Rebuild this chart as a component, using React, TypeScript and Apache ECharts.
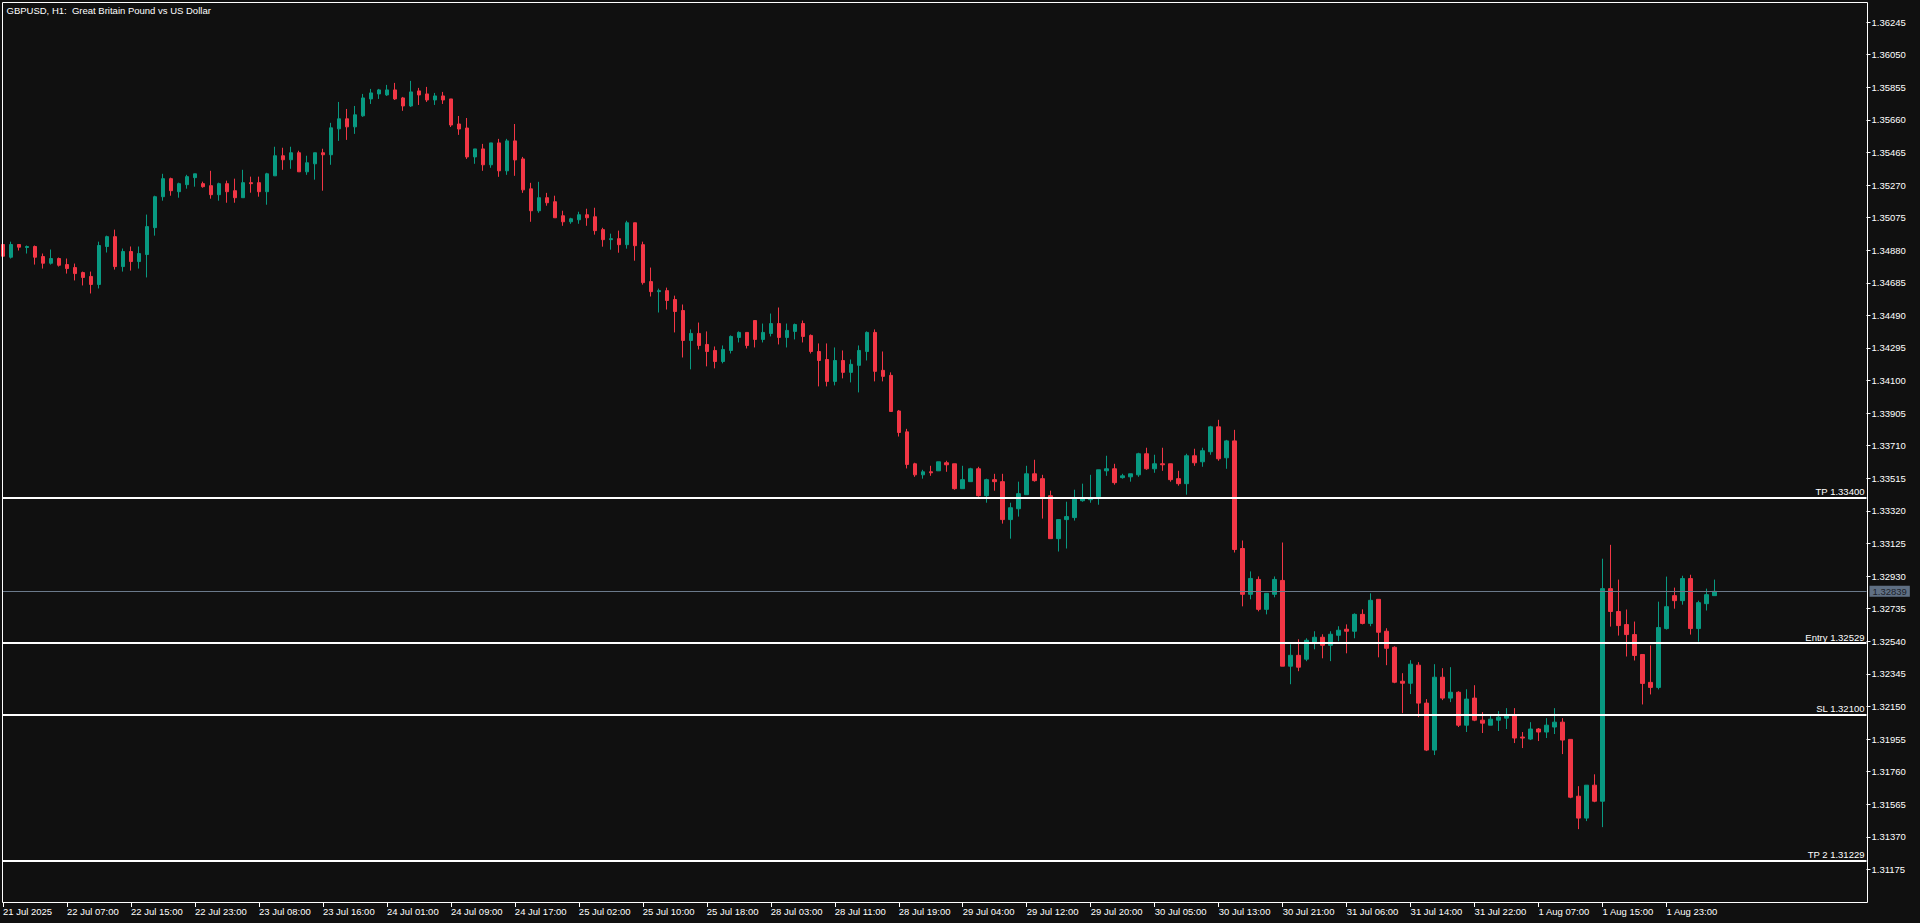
import React, { useEffect, useRef } from 'react';
import * as echarts from 'echarts';

const chartTitle = 'GBPUSD, H1:  Great Britain Pound vs US Dollar';

const opens = [
  1.34914, 1.34838, 1.34914, 1.34896, 1.34902, 1.34842, 1.34802, 1.3483, 1.34794, 1.34776,
  1.34746, 1.34723, 1.34675, 1.34902, 1.34961, 1.34782, 1.34872, 1.34812, 1.34854, 1.35015,
  1.352, 1.35308, 1.3523, 1.35272, 1.35314, 1.35278, 1.35266, 1.35212, 1.35278, 1.35236,
  1.35194, 1.35284, 1.35284, 1.3523, 1.35325, 1.35445, 1.35421, 1.35463, 1.35349, 1.35397,
  1.35463, 1.35451, 1.35606, 1.35666, 1.35618, 1.35684, 1.35785, 1.35815, 1.35809, 1.35839,
  1.35791, 1.35743, 1.35833, 1.35815, 1.35779, 1.35803, 1.35785, 1.35635, 1.35611, 1.35438,
  1.35486, 1.35391, 1.35522, 1.35355, 1.35534, 1.35426, 1.35247, 1.35116, 1.35194, 1.3517,
  1.35086, 1.3505, 1.35062, 1.35092, 1.3508, 1.35003, 1.34943, 1.34949, 1.34913, 1.35044,
  1.34913, 1.34692, 1.34632, 1.34638, 1.34585, 1.34519, 1.3434, 1.34382, 1.34316, 1.3428,
  1.34214, 1.3428, 1.34358, 1.34388, 1.34459, 1.34346, 1.34382, 1.34441, 1.34358, 1.34394,
  1.34441, 1.3437, 1.34274, 1.34226, 1.34095, 1.3422, 1.34149, 1.34191, 1.34274, 1.34388,
  1.34161, 1.34131, 1.33918, 1.33793, 1.33602, 1.33536, 1.33554, 1.3356, 1.33608, 1.33602,
  1.33453, 1.33495, 1.33572, 1.33411, 1.33507, 1.33495, 1.33268, 1.33333, 1.33417, 1.33542,
  1.33513, 1.33411, 1.33154, 1.33268, 1.3328, 1.33381, 1.33387, 1.33405, 1.3356, 1.33572,
  1.33519, 1.33524, 1.33536, 1.33662, 1.33572, 1.33602, 1.33602, 1.33513, 1.33483, 1.3365,
  1.33614, 1.33674, 1.33823, 1.33638, 1.33739, 1.33095, 1.32821, 1.3291, 1.32731, 1.32821,
  1.32904, 1.32391, 1.32456, 1.32433, 1.32534, 1.32564, 1.32516, 1.32576, 1.32612, 1.326,
  1.32701, 1.32647, 1.32791, 1.326, 1.32504, 1.32301, 1.32289, 1.32397, 1.3217, 1.31889,
  1.32325, 1.322, 1.32235, 1.32038, 1.322, 1.32068, 1.32038, 1.32068, 1.3208, 1.32098,
  1.31967, 1.31955, 1.32015, 1.31997, 1.32027, 1.32056, 1.31953, 1.31613, 1.31482, 1.31679,
  1.31583, 1.32855, 1.32718, 1.3264, 1.3258, 1.32461, 1.32294, 1.32264, 1.32616, 1.32813,
  1.32783, 1.32915, 1.32616, 1.32765, 1.32813,
];

const highs = [
  1.34914, 1.34931, 1.34914, 1.34908, 1.34908, 1.3486, 1.34884, 1.34836, 1.3483, 1.348,
  1.34752, 1.34752, 1.34931, 1.34967, 1.35003, 1.3489, 1.34902, 1.34902, 1.35093, 1.35206,
  1.35337, 1.35314, 1.35284, 1.35331, 1.35337, 1.3529, 1.35355, 1.35284, 1.35296, 1.35308,
  1.35361, 1.3532, 1.3532, 1.35343, 1.35499, 1.35493, 1.35499, 1.35475, 1.35445, 1.35463,
  1.35487, 1.35642, 1.35767, 1.35725, 1.35743, 1.35815, 1.35845, 1.35845, 1.35869, 1.35881,
  1.35797, 1.35893, 1.35851, 1.35857, 1.35821, 1.35827, 1.35785, 1.35683, 1.35671, 1.35486,
  1.35516, 1.35522, 1.35546, 1.35546, 1.35635, 1.35438, 1.35283, 1.35289, 1.35223, 1.35206,
  1.35116, 1.35074, 1.3511, 1.35128, 1.35134, 1.35014, 1.34979, 1.34997, 1.35056, 1.35044,
  1.34931, 1.34776, 1.3465, 1.34656, 1.34608, 1.34555, 1.34406, 1.34447, 1.34394, 1.34304,
  1.3431, 1.3437, 1.34394, 1.34388, 1.34459, 1.34441, 1.34501, 1.34537, 1.34441, 1.34441,
  1.34459, 1.34376, 1.34322, 1.34322, 1.34298, 1.3428, 1.34226, 1.3431, 1.34394, 1.34406,
  1.34274, 1.34149, 1.33924, 1.33811, 1.33608, 1.33566, 1.3359, 1.33614, 1.3362, 1.33602,
  1.3359, 1.33578, 1.33584, 1.33513, 1.33542, 1.33542, 1.33369, 1.33495, 1.3359, 1.33626,
  1.33536, 1.33441, 1.33268, 1.33375, 1.33447, 1.33483, 1.33536, 1.33566, 1.3365, 1.33602,
  1.33542, 1.33542, 1.33668, 1.33698, 1.33656, 1.33698, 1.33602, 1.3356, 1.33662, 1.33692,
  1.33698, 1.33829, 1.33865, 1.33745, 1.33805, 1.33143, 1.32958, 1.32928, 1.32827, 1.32928,
  1.33131, 1.32522, 1.32552, 1.32558, 1.326, 1.32582, 1.326, 1.3263, 1.32641, 1.32707,
  1.32731, 1.32827, 1.32791, 1.32618, 1.3251, 1.32349, 1.32427, 1.32415, 1.32194, 1.32403,
  1.32379, 1.32385, 1.32241, 1.32253, 1.32277, 1.32116, 1.32104, 1.32122, 1.3214, 1.3214,
  1.31997, 1.32056, 1.32021, 1.3208, 1.3214, 1.3208, 1.31953, 1.31673, 1.31679, 1.31744,
  1.33034, 1.33117, 1.32909, 1.3273, 1.32658, 1.32461, 1.32515, 1.32777, 1.32927, 1.32861,
  1.32932, 1.32938, 1.32783, 1.32855, 1.32909,
];

const lows = [
  1.34844, 1.3483, 1.34878, 1.3486, 1.34794, 1.3477, 1.34794, 1.34782, 1.3474, 1.34699,
  1.34669, 1.34621, 1.34651, 1.34866, 1.34764, 1.34752, 1.34758, 1.3477, 1.34717, 1.34967,
  1.35176, 1.35206, 1.35194, 1.35248, 1.3526, 1.35254, 1.35188, 1.35176, 1.35164, 1.35164,
  1.35194, 1.35224, 1.352, 1.35152, 1.35325, 1.35361, 1.35367, 1.35349, 1.35331, 1.35302,
  1.35236, 1.35391, 1.35534, 1.3554, 1.35576, 1.35678, 1.35755, 1.35785, 1.35803, 1.35779,
  1.35714, 1.35737, 1.35749, 1.35767, 1.35749, 1.35755, 1.35617, 1.3557, 1.35426, 1.35397,
  1.35355, 1.35373, 1.35319, 1.35331, 1.35325, 1.35223, 1.3505, 1.35104, 1.35146, 1.35074,
  1.35026, 1.35038, 1.35038, 1.35026, 1.34973, 1.34901, 1.34883, 1.34865, 1.34889, 1.34817,
  1.34674, 1.34603, 1.34507, 1.34525, 1.34388, 1.34238, 1.34167, 1.34286, 1.34185, 1.34173,
  1.34203, 1.34262, 1.34328, 1.34292, 1.34298, 1.34328, 1.34364, 1.34316, 1.34298, 1.34346,
  1.34328, 1.34262, 1.34065, 1.34065, 1.34071, 1.34113, 1.34089, 1.34029, 1.3422, 1.34095,
  1.34095, 1.33915, 1.33765, 1.33574, 1.33524, 1.33513, 1.3353, 1.3356, 1.33554, 1.33447,
  1.33453, 1.33495, 1.33405, 1.33369, 1.33441, 1.33244, 1.33154, 1.33286, 1.33417, 1.33495,
  1.33274, 1.33154, 1.33077, 1.33095, 1.33262, 1.33375, 1.33369, 1.33357, 1.3353, 1.33477,
  1.33513, 1.33495, 1.33524, 1.33566, 1.33548, 1.3356, 1.33495, 1.33471, 1.33417, 1.3359,
  1.33584, 1.33656, 1.3362, 1.33572, 1.33071, 1.32749, 1.32791, 1.32719, 1.32701, 1.32803,
  1.32391, 1.32283, 1.32361, 1.32421, 1.32492, 1.32438, 1.32421, 1.3254, 1.32468, 1.32558,
  1.32641, 1.3263, 1.32444, 1.32397, 1.32289, 1.3211, 1.32224, 1.32086, 1.31883, 1.31859,
  1.32188, 1.32176, 1.32027, 1.31997, 1.32062, 1.31991, 1.32038, 1.32003, 1.32015, 1.31931,
  1.31901, 1.31949, 1.31943, 1.31961, 1.31985, 1.31865, 1.31601, 1.31416, 1.31464, 1.31577,
  1.31428, 1.32628, 1.32574, 1.32449, 1.32425, 1.32162, 1.32222, 1.32252, 1.3261, 1.32735,
  1.32759, 1.3258, 1.32538, 1.32724, 1.32813,
];

const closes = [
  1.34844, 1.34914, 1.34898, 1.34902, 1.34838, 1.34802, 1.3483, 1.3479, 1.3477, 1.3474,
  1.34717, 1.34675, 1.34908, 1.34961, 1.34782, 1.34872, 1.34812, 1.3486, 1.35021, 1.352,
  1.35308, 1.35236, 1.35278, 1.3532, 1.35337, 1.3526, 1.35212, 1.35278, 1.3523, 1.35194,
  1.35284, 1.35278, 1.3523, 1.35337, 1.35445, 1.35421, 1.35463, 1.35349, 1.35403, 1.35463,
  1.35451, 1.35612, 1.35666, 1.35618, 1.3569, 1.35791, 1.35821, 1.35839, 1.35839, 1.35785,
  1.35743, 1.35827, 1.35809, 1.35779, 1.35803, 1.35779, 1.35629, 1.35605, 1.35438, 1.35486,
  1.35391, 1.35522, 1.35355, 1.35534, 1.3542, 1.35241, 1.35116, 1.35194, 1.35164, 1.35074,
  1.3505, 1.35068, 1.35092, 1.35074, 1.34997, 1.34943, 1.34949, 1.34913, 1.35044, 1.34907,
  1.34686, 1.34632, 1.34638, 1.34579, 1.34513, 1.3434, 1.34382, 1.3431, 1.34274, 1.34214,
  1.34286, 1.34364, 1.34388, 1.3431, 1.34346, 1.34388, 1.34441, 1.34358, 1.344, 1.34435,
  1.34364, 1.34274, 1.3422, 1.34095, 1.3422, 1.34149, 1.34197, 1.3428, 1.34388, 1.34155,
  1.34125, 1.33915, 1.33789, 1.33598, 1.33536, 1.33554, 1.33548, 1.33614, 1.33596, 1.33453,
  1.33507, 1.33572, 1.33411, 1.33507, 1.33495, 1.33268, 1.33339, 1.33423, 1.33542, 1.33501,
  1.33405, 1.33154, 1.33268, 1.33286, 1.33393, 1.33393, 1.33393, 1.33566, 1.33572, 1.33489,
  1.3353, 1.33542, 1.33662, 1.33572, 1.33602, 1.33596, 1.33507, 1.33483, 1.3365, 1.33608,
  1.3368, 1.33823, 1.33632, 1.33739, 1.33089, 1.32821, 1.32916, 1.32731, 1.32827, 1.3291,
  1.32391, 1.32456, 1.32385, 1.32546, 1.32564, 1.32516, 1.32582, 1.32606, 1.326, 1.32701,
  1.32647, 1.32785, 1.32594, 1.32498, 1.32295, 1.32289, 1.32403, 1.3217, 1.31889, 1.32325,
  1.322, 1.32235, 1.32038, 1.32194, 1.32068, 1.3205, 1.32074, 1.32086, 1.32098, 1.31961,
  1.31961, 1.32015, 1.31997, 1.32038, 1.32056, 1.31949, 1.31607, 1.31482, 1.31679, 1.31583,
  1.32855, 1.32718, 1.32634, 1.3258, 1.32455, 1.32288, 1.32264, 1.32622, 1.32747, 1.32783,
  1.32915, 1.32616, 1.32771, 1.32819, 1.32839,
];

// one label every 8 bars, starting with the first bar
const timeTickLabels = [
  '21 Jul 2025', '22 Jul 07:00', '22 Jul 15:00', '22 Jul 23:00', '23 Jul 08:00', '23 Jul 16:00',
  '24 Jul 01:00', '24 Jul 09:00', '24 Jul 17:00', '25 Jul 02:00', '25 Jul 10:00', '25 Jul 18:00',
  '28 Jul 03:00', '28 Jul 11:00', '28 Jul 19:00', '29 Jul 04:00', '29 Jul 12:00', '29 Jul 20:00',
  '30 Jul 05:00', '30 Jul 13:00', '30 Jul 21:00', '31 Jul 06:00', '31 Jul 14:00', '31 Jul 22:00',
  '1 Aug 07:00', '1 Aug 15:00', '1 Aug 23:00',
];
const barsPerTick = 8;
const emptyBarsAfter = 19;

const levelNames = ['TP', 'Entry', 'SL', 'TP 2'];
const levelValues = [1.334, 1.32529, 1.321, 1.31229];
const currentPrice = 1.32839;

const priceMin = 1.3098;
const priceMax = 1.36365;
const priceStep = 0.00195;

const FONT = 'Liberation Sans';

export default function App() {
  const ref = useRef<HTMLDivElement>(null);

  useEffect(() => {
    if (!ref.current) return;
    const chart = echarts.init(ref.current, null, { renderer: 'svg' });
    const total = opens.length + emptyBarsAfter;
    const cats = Array.from({ length: total }, (_, i) => String(i));
    const data = opens.map((o, i) => [o, closes[i], lows[i], highs[i]]);
    const showTick = (i: number) => i % barsPerTick === 0 && i / barsPerTick < timeTickLabels.length;

    const levelLines = levelNames.map((n, i) => ({
      name: n,
      yAxis: levelValues[i],
      lineStyle: { color: '#ffffff', width: 2, type: 'solid' },
      label: {
        show: true,
        position: 'insideEndTop',
        formatter: `${n} ${levelValues[i].toFixed(5)}`,
        color: '#ffffff',
        fontSize: 9.5,
        fontFamily: FONT,
        distance: [2, 1],
      },
    }));

    chart.setOption({
      animation: false,
      backgroundColor: '#101010',
      textStyle: { fontFamily: FONT },
      grid: { left: 2.5, right: 53.5, top: 2, bottom: 21, containLabel: false },
      xAxis: {
        type: 'category',
        data: cats,
        boundaryGap: false,
        axisLine: { show: false },
        axisTick: {
          show: true,
          length: 5,
          interval: (i: number) => showTick(i),
          lineStyle: { color: '#ffffff', width: 1 },
        },
        axisLabel: {
          interval: (i: number) => showTick(i),
          formatter: (_v: string, i: number) => timeTickLabels[i / barsPerTick] ?? '',
          color: '#ffffff',
          fontSize: 9.5,
          fontFamily: FONT,
          align: 'left',
          margin: 4,
        },
        splitLine: { show: false },
      },
      yAxis: {
        type: 'value',
        position: 'right',
        min: priceMin,
        max: priceMax,
        interval: priceStep,
        scale: true,
        axisLine: { show: false },
        axisTick: { show: true, length: 4, lineStyle: { color: '#ffffff', width: 1 } },
        axisLabel: {
          color: '#ffffff',
          fontSize: 9.5,
          fontFamily: FONT,
          margin: 5,
          showMinLabel: false,
          showMaxLabel: false,
          formatter: (v: number) => v.toFixed(5),
        },
        splitLine: { show: false },
      },
      series: [
        {
          type: 'candlestick',
          data,
          barWidth: 4,
          itemStyle: {
            color: '#089981',
            color0: '#f23645',
            borderColor: '#089981',
            borderColor0: '#f23645',
            borderWidth: 1,
          },
          markLine: {
            silent: true,
            symbol: ['none', 'none'],
            precision: 5,
            animation: false,
            data: [
              ...levelLines,
              {
                name: 'price',
                yAxis: currentPrice,
                lineStyle: { color: '#6b7a8b', width: 1, type: 'solid' },
                label: {
                  show: true,
                  position: 'end',
                  formatter: currentPrice.toFixed(5),
                  color: '#1c222a',
                  backgroundColor: '#607084',
                  padding: [1, 3, 0, 3],
                  fontSize: 9.5,
                  fontFamily: FONT,
                  distance: 3,
                },
              },
            ],
          },
        },
      ],
      graphic: [
        {
          type: 'rect',
          silent: true,
          z: 100,
          shape: { x: 2.5, y: 2.5, width: 1865, height: 900 },
          style: { fill: 'none', stroke: '#ffffff', lineWidth: 1 },
        },
        {
          type: 'text',
          x: 6.5,
          y: 10,
          z: 100,
          style: {
            text: chartTitle,
            fill: '#ffffff',
            fontSize: 9.5,
            fontFamily: FONT,
            verticalAlign: 'middle',
          },
        },
      ],
    });

    return () => chart.dispose();
  }, []);

  return (
    <div
      ref={ref}
      style={{ position: 'fixed', left: 0, top: 0, width: 1920, height: 923 }}
    />
  );
}
